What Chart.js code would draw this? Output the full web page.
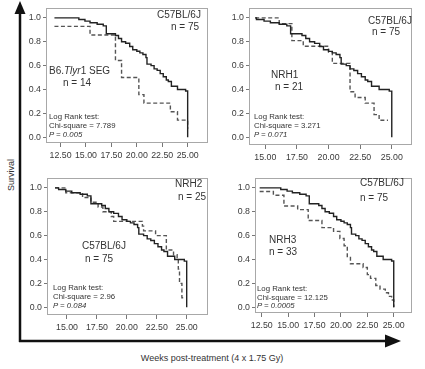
<!DOCTYPE html>
<html>
<head>
<meta charset="utf-8">
<script src="https://cdn.jsdelivr.net/npm/chart.js@4"></script>
<style>
    body { margin: 0; background: #fff; }
    #page { position: relative; width: 425px; height: 369px; overflow: hidden; font-family: "Liberation Sans", Arial, sans-serif; color: #333; }
    canvas { position: absolute; }
    .txt { position: absolute; white-space: nowrap; line-height: 1; transform: translateY(-50%); }
    .big { font-size: 10px; }
    .small { font-size: 7.8px; }
    svg { position: absolute; left: 0; top: 0; }
</style>
</head>
<body>
<div id="page">
    <svg width="425" height="369">
        <line x1="20" y1="12" x2="20" y2="342" stroke="#111" stroke-width="2.5"/>
        <polygon points="20,1 14.5,14 25.5,14" fill="#111"/>
        <line x1="19" y1="341" x2="386" y2="341" stroke="#111" stroke-width="2.5"/>
        <polygon points="401,341 385,334.5 385,347.5" fill="#111"/>
    </svg>

    <canvas id="p1"></canvas>
    <canvas id="p2"></canvas>
    <canvas id="p3"></canvas>
    <canvas id="p4"></canvas>

    <!-- panel 1 -->
    <div class="txt big" style="left:157px;top:15px">C57BL/6J</div>
    <div class="txt big" style="left:171px;top:27px">n = 75</div>
    <div class="txt big" style="left:49px;top:71px">B6.<i>Tlyr</i>1 SEG</div>
    <div class="txt big" style="left:63px;top:83px">n = 14</div>
    <div class="txt small" style="left:49px;top:117px">Log Rank test:</div>
    <div class="txt small" style="left:49px;top:126px">Chi-square = 7.789</div>
    <div class="txt small" style="left:49px;top:135px"><i>P = 0.005</i></div>
    <!-- panel 2 -->
    <div class="txt big" style="left:368px;top:21px">C57BL/6J</div>
    <div class="txt big" style="left:372px;top:32px">n = 75</div>
    <div class="txt big" style="left:271px;top:75px">NRH1</div>
    <div class="txt big" style="left:275px;top:87px">n = 21</div>
    <div class="txt small" style="left:254px;top:117px">Log Rank test:</div>
    <div class="txt small" style="left:254px;top:126px">Chi-square = 3.271</div>
    <div class="txt small" style="left:254px;top:135px"><i>P = 0.071</i></div>
    <!-- panel 3 -->
    <div class="txt big" style="left:175px;top:184px">NRH2</div>
    <div class="txt big" style="left:178px;top:197px">n = 25</div>
    <div class="txt big" style="left:82px;top:246px">C57BL/6J</div>
    <div class="txt big" style="left:85px;top:259px">n = 75</div>
    <div class="txt small" style="left:53px;top:288px">Log Rank test:</div>
    <div class="txt small" style="left:53px;top:297px">Chi-square = 2.96</div>
    <div class="txt small" style="left:53px;top:306px"><i>P = 0.084</i></div>
    <!-- panel 4 -->
    <div class="txt big" style="left:360px;top:183px">C57BL/6J</div>
    <div class="txt big" style="left:360px;top:198px">n = 75</div>
    <div class="txt big" style="left:269px;top:240px">NRH3</div>
    <div class="txt big" style="left:269px;top:252px">n = 33</div>
    <div class="txt small" style="left:257px;top:289px">Log Rank test:</div>
    <div class="txt small" style="left:257px;top:298px">Chi-square = 12.125</div>
    <div class="txt small" style="left:257px;top:306px"><i>P = 0.0005</i></div>

    <div class="txt" style="left:11px;top:175px;font-size:9px;transform:translate(-50%,-50%) rotate(-90deg)">Survival</div>
    <div class="txt" style="left:212px;top:358px;font-size:9px;transform:translate(-50%,-50%)">Weeks post-treatment (4 x 1.75 Gy)</div>
</div>

<script>
// tick labels
const xTicksWide = [12.5, 15, 17.5, 20, 22.5, 25];
const xTicksNarrow = [15, 17.5, 20, 22.5, 25];
const yTicks = [0, 0.2, 0.4, 0.6, 0.8, 1.0];

// C57BL/6J control (n = 75), the same curve in every panel
const ctrlWeeks = [14.3, 14.9, 15.4, 16.1, 16.7, 17.0, 17.9, 18.2, 18.5, 18.9, 19.3, 19.6, 20.0, 20.3, 20.6, 20.9, 21.0, 21.4, 21.7, 22.0, 22.3, 22.6, 22.9, 23.1, 23.4, 24.0, 24.8, 25.0];
const ctrlSurv = [0.987, 0.973, 0.96, 0.947, 0.933, 0.867, 0.853, 0.827, 0.8, 0.787, 0.76, 0.733, 0.72, 0.707, 0.693, 0.667, 0.613, 0.6, 0.573, 0.56, 0.533, 0.507, 0.48, 0.467, 0.427, 0.4, 0.387, 0];
// week where each panel's curves begin
const panelStart = [11.9, 14.2, 14.0, 12.3];

// B6.Tlyr1 SEG (n = 14)
const segWeeks = [11.9, 15.4, 17.9, 18.5, 20.2, 20.7, 23.3, 24.0, 25.0];
const segSurv = [0.929, 0.857, 0.643, 0.5, 0.357, 0.286, 0.214, 0.143, 0.071];
// NRH1 (n = 21)
const nrh1Weeks = [14.2, 16.1, 17.1, 18.0, 20.0, 20.3, 21.7, 22.1, 22.9, 23.6, 24.0, 24.7];
const nrh1Surv = [1.0, 0.952, 0.81, 0.762, 0.714, 0.619, 0.381, 0.333, 0.286, 0.19, 0.143, 0.143];
// NRH2 (n = 25)
const nrh2Weeks = [14.0, 14.9, 16.3, 17.0, 17.6, 18.0, 18.7, 18.9, 21.3, 21.4, 22.4, 23.3, 23.9, 24.2, 24.3, 24.4, 24.6, 24.9];
const nrh2Surv = [1.0, 0.96, 0.92, 0.88, 0.84, 0.80, 0.76, 0.72, 0.68, 0.64, 0.60, 0.48, 0.44, 0.40, 0.32, 0.20, 0.08, 0.08];
// NRH3 (n = 33)
const nrh3Weeks = [12.3, 13.6, 14.6, 15.9, 16.9, 18.2, 19.3, 19.9, 20.3, 20.6, 20.9, 22.1, 22.5, 22.8, 23.3, 23.7, 24.2, 24.5, 24.8, 25.0];
const nrh3Surv = [0.97, 0.939, 0.848, 0.818, 0.727, 0.667, 0.636, 0.576, 0.515, 0.424, 0.364, 0.333, 0.273, 0.242, 0.182, 0.152, 0.121, 0.091, 0.061, 0];

// space around each plot box inside its canvas (px)
const Y_AX_W = 30, X_AX_H = 24, PAD_T = 2, PAD_R = 2;

const framePlugin = {
    id: 'frame',
    afterDraw(chart) {
        const a = chart.chartArea, ctx = chart.ctx;
        ctx.save();
        ctx.strokeStyle = '#a8a8a8';
        ctx.lineWidth = 1;
        ctx.strokeRect(Math.round(a.left) + 0.5, Math.round(a.top) + 0.5, Math.round(a.right - a.left) - 1, Math.round(a.bottom - a.top) - 1);
        ctx.restore();
    }
};

function toPoints(weeks, surv) {
    return weeks.map((w, i) => ({ x: w, y: surv[i] }));
}

function makePanel(id, box, xMin, xMax, xTicks, start, weeks, surv) {
    const cv = document.getElementById(id);
    const w = box[2] - box[0], h = box[3] - box[1];
    cv.width = Y_AX_W + w + PAD_R;
    cv.height = PAD_T + h + X_AX_H;
    cv.style.left = (box[0] - Y_AX_W) + 'px';
    cv.style.top = (box[1] - PAD_T) + 'px';

    // 1.0 sits 10px under the box top, 0.0 134px under it
    const yMax = 1 + 10 / 124;
    const yMin = -(h - 134) / 124;

    const ctrl = [{ x: start, y: 1 }].concat(toPoints(ctrlWeeks, ctrlSurv));
    const tickFont = { family: '"Liberation Sans", Arial, sans-serif', size: 8.8 };

    new Chart(cv, {
        type: 'line',
        data: {
            datasets: [{
                data: ctrl,
                borderColor: '#222',
                borderWidth: 1.4
            }, {
                data: toPoints(weeks, surv),
                borderColor: '#555',
                borderWidth: 1.4,
                borderDash: [4, 2.5]
            }]
        },
        options: {
            responsive: false,
            animation: false,
            events: [],
            layout: { padding: { top: PAD_T, right: PAD_R, left: 0, bottom: 0 } },
            elements: { point: { radius: 0 }, line: { stepped: true, tension: 0 } },
            plugins: { legend: { display: false }, tooltip: { enabled: false } },
            scales: {
                x: {
                    type: 'linear', min: xMin, max: xMax,
                    afterBuildTicks: ax => { ax.ticks = xTicks.map(v => ({ value: v })); },
                    afterFit: ax => { ax.height = X_AX_H; },
                    ticks: { callback: v => v.toFixed(2), font: tickFont, color: '#3a3a3a', padding: 3, maxRotation: 0, autoSkip: false },
                    grid: { display: true, drawOnChartArea: false, tickLength: 4, color: '#777' },
                    border: { display: false }
                },
                y: {
                    min: yMin, max: yMax,
                    afterBuildTicks: ax => { ax.ticks = yTicks.map(v => ({ value: v })); },
                    afterFit: ax => { ax.width = Y_AX_W; },
                    ticks: { callback: v => v.toFixed(1), font: tickFont, color: '#3a3a3a', padding: 2 },
                    grid: { display: true, drawOnChartArea: false, tickLength: 3, color: '#777' },
                    border: { display: false }
                }
            }
        },
        plugins: [framePlugin]
    });
}

makePanel('p1', [46, 3, 208, 143], 11.07, 27.0, xTicksWide, panelStart[0], segWeeks, segSurv);
makePanel('p2', [249, 3, 412, 145], 13.71, 26.6, xTicksNarrow, panelStart[1], nrh1Weeks, nrh1Surv);
makePanel('p3', [47, 173, 208, 315], 13.33, 26.78, xTicksNarrow, panelStart[2], nrh2Weeks, nrh2Surv);
makePanel('p4', [255, 173, 412, 313], 11.86, 26.73, xTicksWide, panelStart[3], nrh3Weeks, nrh3Surv);
</script>
</body>
</html>
